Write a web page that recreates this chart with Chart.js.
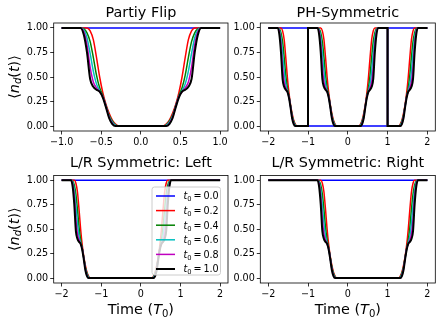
<!DOCTYPE html>
<html><head><meta charset="utf-8">
<script src="https://cdn.jsdelivr.net/npm/chart.js@4.4.0/dist/chart.umd.min.js"></script>
<style>
html,body{margin:0;padding:0;background:#fff;}
#wrap{position:relative;width:443px;height:325px;overflow:hidden;}
#wrap canvas{position:absolute;left:0;top:0;}
</style></head><body>
<div id="wrap">
<canvas id="c1" width="443" height="325"></canvas>
<canvas id="c2" width="443" height="325"></canvas>
<canvas id="c3" width="443" height="325"></canvas>
<canvas id="c4" width="443" height="325"></canvas>
</div>
<script>
// ---------------- data ----------------
const panelTitles = ['Partiy Flip', 'PH-Symmetric', 'L/R Symmetric: Left', 'L/R Symmetric: Right'];
const t0Labels = ['0.0', '0.2', '0.4', '0.6', '0.8', '1.0'];

const yTicks = [0, 0.25, 0.5, 0.75, 1];
const yTickLabels = ['0.00', '0.25', '0.50', '0.75', '1.00'];
const xTicksParity = [-1, -0.5, 0, 0.5, 1];
const xTickLabelsParity = ['\u22121.0', '\u22120.5', '0.0', '0.5', '1.0'];
const xTicksWide = [-2, -1, 0, 1, 2];
const xTickLabelsWide = ['\u22122', '\u22121', '0', '1', '2'];

// falling edges (values at 15 sample times across each drop) for t0 = 0.2 ... 1.0
const dropT02 = [1, 1, 1, 1, 0.97, 0.88, 0.70, 0.50, 0.34, 0.22, 0.13, 0.06, 0.02, 0, 0];
const dropT04 = [1, 1, 0.99, 0.95, 0.86, 0.70, 0.52, 0.39, 0.31, 0.21, 0.11, 0.05, 0.01, 0, 0];
const dropT06 = [1, 1, 0.98, 0.90, 0.74, 0.56, 0.43, 0.36, 0.30, 0.20, 0.10, 0.04, 0.01, 0, 0];
const dropT08 = [1, 1, 0.96, 0.83, 0.60, 0.45, 0.39, 0.35, 0.30, 0.20, 0.09, 0.03, 0, 0, 0];
const dropT10 = [1, 1, 0.93, 0.75, 0.48, 0.40, 0.37, 0.35, 0.29, 0.19, 0.08, 0.02, 0, 0, 0];
// rising edges
const riseT02 = [0, 0, 0.02, 0.06, 0.13, 0.22, 0.34, 0.50, 0.70, 0.88, 0.97, 1, 1, 1, 1];
const riseT04 = [0, 0, 0.01, 0.05, 0.11, 0.21, 0.31, 0.39, 0.52, 0.70, 0.86, 0.95, 0.99, 1, 1];
const riseT06 = [0, 0, 0.01, 0.04, 0.10, 0.20, 0.30, 0.36, 0.43, 0.56, 0.74, 0.90, 0.98, 1, 1];
const riseT08 = [0, 0, 0, 0.03, 0.09, 0.20, 0.30, 0.35, 0.39, 0.45, 0.60, 0.83, 0.96, 1, 1];
const riseT10 = [0, 0, 0, 0.02, 0.08, 0.19, 0.29, 0.35, 0.37, 0.40, 0.48, 0.75, 0.93, 1, 1];

// time axes of each panel
const timeParity = [-1, -0.84, -0.8, -0.76, -0.72, -0.68, -0.64, -0.6, -0.56, -0.52, -0.48, -0.44, -0.4, -0.36, -0.32, -0.28, -0.24, -0.2,
  0.2, 0.24, 0.28, 0.32, 0.36, 0.4, 0.44, 0.48, 0.52, 0.56, 0.6, 0.64, 0.68, 0.72, 0.76, 0.8, 0.84, 1];
const timePH = [-2, -1.84, -1.8, -1.76, -1.72, -1.68, -1.64, -1.6, -1.56, -1.52, -1.48, -1.44, -1.4, -1.36, -1.32, -1.28, -1.24, -1.2, -1.0001,
  -1, -0.84, -0.8, -0.76, -0.72, -0.68, -0.64, -0.6, -0.56, -0.52, -0.48, -0.44, -0.4, -0.36, -0.32, -0.28, -0.24, -0.2,
  0.2, 0.24, 0.28, 0.32, 0.36, 0.4, 0.44, 0.48, 0.52, 0.56, 0.6, 0.64, 0.68, 0.72, 0.76, 0.8, 0.84, 1,
  1.0001, 1.2, 1.24, 1.28, 1.32, 1.36, 1.4, 1.44, 1.48, 1.52, 1.56, 1.6, 1.64, 1.68, 1.72, 1.76, 1.8, 1.84, 2];
const timeLeft = [-2, -1.84, -1.8, -1.76, -1.72, -1.68, -1.64, -1.6, -1.56, -1.52, -1.48, -1.44, -1.4, -1.36, -1.32, -1.28, -1.24, -1.2,
  0.2, 0.24, 0.28, 0.32, 0.36, 0.4, 0.44, 0.48, 0.52, 0.56, 0.6, 0.64, 0.68, 0.72, 0.76, 0.8, 0.84, 2];
const timeRight = [-2, -0.84, -0.8, -0.76, -0.72, -0.68, -0.64, -0.6, -0.56, -0.52, -0.48, -0.44, -0.4, -0.36, -0.32, -0.28, -0.24, -0.2,
  1.2, 1.24, 1.28, 1.32, 1.36, 1.4, 1.44, 1.48, 1.52, 1.56, 1.6, 1.64, 1.68, 1.72, 1.76, 1.8, 1.84, 2];

// t0 = 0.0 curves
const blueParityX = [-1, 1];
const blueParityY = [1, 1];
const bluePHX = [-2, -1.0001, -1, 1, 1.0001, 2];
const bluePHY = [1, 1, 0, 0, 1, 1];
const blueLRX = [-2, 2];
const blueLRY = [1, 1];

// ---------------- assembly ----------------
const drops = [dropT02, dropT04, dropT06, dropT08, dropT10];
const rises = [riseT02, riseT04, riseT06, riseT08, riseT10];
const seqParity = k => [1, 1, ...drops[k], 0, 0, ...rises[k], 1, 1];
const seqPH = k => [1, 1, ...drops[k], 0, 0, 1, 1, ...drops[k], 0, 0, ...rises[k], 1, 1, 0, 0, ...rises[k], 1, 1];
const seqLR = k => [1, 1, ...drops[k], 0, 0, ...rises[k], 1, 1];

const lineColors = ['#0000ff', '#ff0000', '#008000', '#00bfbf', '#bf00bf', '#000000'];
const FAMILY = '"DejaVu Sans", sans-serif';

function buildSeries(blueX, blueY, xs, seq) {
  const out = [[blueX, blueY]];
  for (let k = 0; k < 5; k++) out.push([xs, seq(k)]);
  return out;
}

const panels = [
  { id: 'c1', title: panelTitles[0], rect: { l: 53.7, r: 228, t: 23, b: 131 }, titleTop: 4.7, xMin: -1.1, xMax: 1.1,
    xTicks: xTicksParity, xLabels: xTickLabelsParity, yLabel: true, xLabel: false, legend: false,
    series: buildSeries(blueParityX, blueParityY, timeParity, seqParity) },
  { id: 'c2', title: panelTitles[1], rect: { l: 260.3, r: 435.3, t: 23, b: 131 }, titleTop: 4.7, xMin: -2.2, xMax: 2.2,
    xTicks: xTicksWide, xLabels: xTickLabelsWide, yLabel: false, xLabel: false, legend: false,
    series: buildSeries(bluePHX, bluePHY, timePH, seqPH) },
  { id: 'c3', title: panelTitles[2], rect: { l: 53.7, r: 228, t: 175.4, b: 283 }, titleTop: 154.7, xMin: -2.2, xMax: 2.2,
    xTicks: xTicksWide, xLabels: xTickLabelsWide, yLabel: true, xLabel: true, legend: true,
    series: buildSeries(blueLRX, blueLRY, timeLeft, seqLR) },
  { id: 'c4', title: panelTitles[3], rect: { l: 260.3, r: 435.3, t: 175.4, b: 283 }, titleTop: 154.7, xMin: -2.2, xMax: 2.2,
    xTicks: xTicksWide, xLabels: xTickLabelsWide, yLabel: false, xLabel: true, legend: false,
    series: buildSeries(blueLRX, blueLRY, timeRight, seqLR) }
];

// draw a run of text pieces (italic / subscript) starting at x=0 on baseline y=0
function partsFont(p, size) {
  const s = p.sub ? size * 0.7 : size;
  return (p.i ? 'italic ' : '') + s + 'px ' + FAMILY;
}
function measureParts(ctx, parts, size) {
  let w = 0;
  parts.forEach(p => { ctx.font = partsFont(p, size); w += ctx.measureText(p.t).width; });
  return w;
}
function drawParts(ctx, parts, size, x0) {
  let x = x0;
  ctx.textBaseline = 'alphabetic';
  ctx.textAlign = 'left';
  parts.forEach(p => {
    ctx.font = partsFont(p, size);
    ctx.fillText(p.t, x, p.sub ? size * 0.2 : 0);
    x += ctx.measureText(p.t).width;
  });
}
const yLabelParts = [{ t: '\u27E8' }, { t: 'n', i: true }, { t: 'd', i: true, sub: true }, { t: '(' }, { t: 't', i: true }, { t: ')' }, { t: '\u27E9' }];
const xLabelParts = [{ t: 'Time (' }, { t: 'T', i: true }, { t: '0', sub: true }, { t: ')' }];

const TITLE_SIZE = 14.4;
const TICK_SIZE = 9.6;

function makeChart(p) {
  const datasets = p.series.map((s, k) => ({
    label: 't0 = ' + t0Labels[k],
    data: s[0].map((x, i) => ({ x: x, y: s[1][i] })),
    borderColor: lineColors[k],
    backgroundColor: lineColors[k],
    borderWidth: k === 5 ? 2 : 1.5,
    pointRadius: 0,
    fill: false,
    cubicInterpolationMode: 'monotone',
    order: 6 - k
  }));

  const decor = {
    id: 'decor' + p.id,
    afterDraw(chart) {
      const ctx = chart.ctx;
      const a = chart.chartArea;
      ctx.save();
      // frame (all four spines)
      ctx.strokeStyle = '#000';
      ctx.lineWidth = 0.8;
      ctx.strokeRect(a.left, a.top, a.right - a.left, a.bottom - a.top);
      ctx.fillStyle = '#000';
      if (p.yLabel) {
        ctx.save();
        const cy = (a.top + a.bottom) / 2;
        ctx.translate(18.5, cy);
        ctx.rotate(-Math.PI / 2);
        const w = measureParts(ctx, yLabelParts, TITLE_SIZE);
        drawParts(ctx, yLabelParts, TITLE_SIZE, -w / 2);
        ctx.restore();
      }
      if (p.xLabel) {
        ctx.save();
        const cx = (a.left + a.right) / 2;
        ctx.translate(cx, 314);
        const w = measureParts(ctx, xLabelParts, TITLE_SIZE);
        drawParts(ctx, xLabelParts, TITLE_SIZE, -w / 2);
        ctx.restore();
      }
      if (p.legend) {
        const bx = 152, by = 187, bw = 68.5, bh = 88;
        ctx.beginPath();
        ctx.roundRect(bx, by, bw, bh, 2.5);
        ctx.fillStyle = 'rgba(255,255,255,0.8)';
        ctx.fill();
        ctx.strokeStyle = '#cccccc';
        ctx.lineWidth = 1;
        ctx.stroke();
        chart.data.datasets.forEach((ds, k) => {
          const cy = 196 + 14.6 * k;
          ctx.beginPath();
          ctx.moveTo(156, cy);
          ctx.lineTo(175, cy);
          ctx.strokeStyle = ds.borderColor;
          ctx.lineWidth = ds.borderWidth;
          ctx.stroke();
          ctx.save();
          ctx.translate(183.5, cy + 3.4);
          ctx.fillStyle = '#000';
          const parts = [{ t: 't', i: true }, { t: '0', sub: true }, { t: '\u2009=\u2009' + t0Labels[k] }];
          drawParts(ctx, parts, TICK_SIZE, 0);
          ctx.restore();
        });
      }
      ctx.restore();
    }
  };

  const titleLine = TITLE_SIZE * 1.2;
  const xH = 30, yW = 40;
  return new Chart(document.getElementById(p.id), {
    type: 'line',
    data: { datasets: datasets },
    options: {
      responsive: false,
      animation: false,
      events: [],
      layout: {
        padding: {
          left: p.rect.l - yW,
          right: 443 - p.rect.r,
          top: p.titleTop,
          bottom: 325 - p.rect.b - xH
        }
      },
      plugins: {
        legend: { display: false },
        tooltip: { enabled: false },
        title: {
          display: true,
          text: p.title,
          fullSize: false,
          color: '#000',
          font: { size: TITLE_SIZE, family: FAMILY, weight: 'normal', lineHeight: 1.2 },
          padding: { top: 0, bottom: p.rect.t - p.titleTop - titleLine }
        }
      },
      scales: {
        x: {
          type: 'linear',
          min: p.xMin, max: p.xMax,
          bounds: 'data',
          afterFit(s) { s.height = xH; },
          afterBuildTicks(s) { s.ticks = p.xTicks.map(v => ({ value: v })); },
          ticks: {
            autoSkip: false, maxRotation: 0, minRotation: 0, padding: 2,
            color: '#000', font: { size: TICK_SIZE, family: FAMILY },
            callback: (v, i) => p.xLabels[i]
          },
          grid: { drawOnChartArea: false, drawTicks: true, tickLength: 3.5, tickColor: '#000', tickWidth: 0.8 },
          border: { display: false }
        },
        y: {
          type: 'linear',
          min: -0.05, max: 1.05,
          bounds: 'data',
          afterFit(s) { s.width = yW; },
          afterBuildTicks(s) { s.ticks = yTicks.map(v => ({ value: v })); },
          ticks: {
            autoSkip: false, padding: 2,
            color: '#000', font: { size: TICK_SIZE, family: FAMILY },
            callback: (v, i) => yTickLabels[i]
          },
          grid: { drawOnChartArea: false, drawTicks: true, tickLength: 3.5, tickColor: '#000', tickWidth: 0.8 },
          border: { display: false }
        }
      }
    },
    plugins: [decor]
  });
}

panels.forEach(makeChart);
</script>
</body></html>
